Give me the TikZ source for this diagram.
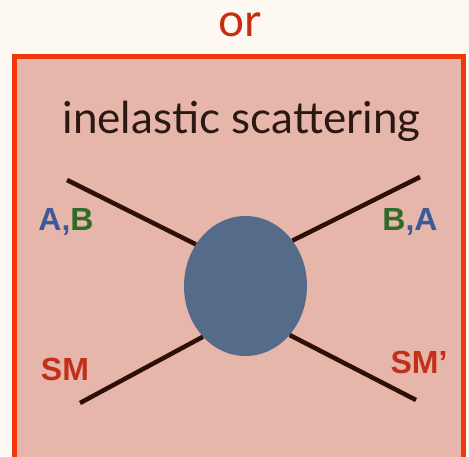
\documentclass[tikz,border=0pt]{standalone}
\usepackage{fontspec}
\setmainfont{Lato}
\newfontfamily\labelfont{Liberation Sans}
\usetikzlibrary{shapes.geometric}
\definecolor{paper}{HTML}{FDF9F2}
\definecolor{boxfill}{HTML}{E5B6A9}
\definecolor{boxedge}{HTML}{F2380A}
\definecolor{ortext}{HTML}{C72D10}
\definecolor{titletext}{HTML}{2B1812}
\definecolor{blobfill}{HTML}{556B8A}
\definecolor{legline}{HTML}{2E0F08}
\definecolor{darkA}{HTML}{3A5A9C}
\definecolor{darkB}{HTML}{2F6C27}
\definecolor{smred}{HTML}{C3301A}
\tikzset{
  leg/.style={line width=4.5pt,legline},
  partlabel/.style={font=\labelfont\bfseries\fontsize{32}{32}\selectfont,anchor=base,inner sep=0pt},
}
\begin{document}
\begin{tikzpicture}[x=1pt,y=-1pt]
\useasboundingbox (0,0) rectangle (469,456);
\fill[paper] (0,0) rectangle (469,456);
% box
\draw[line width=5pt,boxedge,fill=boxfill] (14,56) rectangle (463,462);
\node[ortext,font=\fontsize{46}{46}\selectfont,anchor=base,inner sep=0pt] (or) at (239.5,36) {or};
\node[titletext,font=\fontsize{44}{44}\selectfont,anchor=base,inner sep=0pt] (title) at (241.5,133) {inelastic scattering};
% legs and blob
\node[ellipse,fill=blobfill,minimum width=123pt,minimum height=140pt,inner sep=0pt] (blob) at (245.5,286) {};
\coordinate (inA) at (67,180);
\coordinate (inSM) at (80,403);
\coordinate (outA) at (420,177);
\coordinate (outSM) at (416,400);
\draw[leg] (inA) -- (blob.140);
\draw[leg] (inSM) -- (blob.230);
\draw[leg] (outA) -- (blob.44);
\draw[leg] (outSM) -- (blob.312);
% labels
\node[partlabel] (labAB) at (66,230) {\textcolor{darkA}{A,}\textcolor{darkB}{B}};
\node[partlabel,smred] (labSM) at (65,380) {SM};
\node[partlabel] (labBA) at (410,230) {\textcolor{darkB}{B}\textcolor{darkA}{,A}};
\node[partlabel,smred] (labSMp) at (419,373) {SM’};
\end{tikzpicture}
\end{document}
